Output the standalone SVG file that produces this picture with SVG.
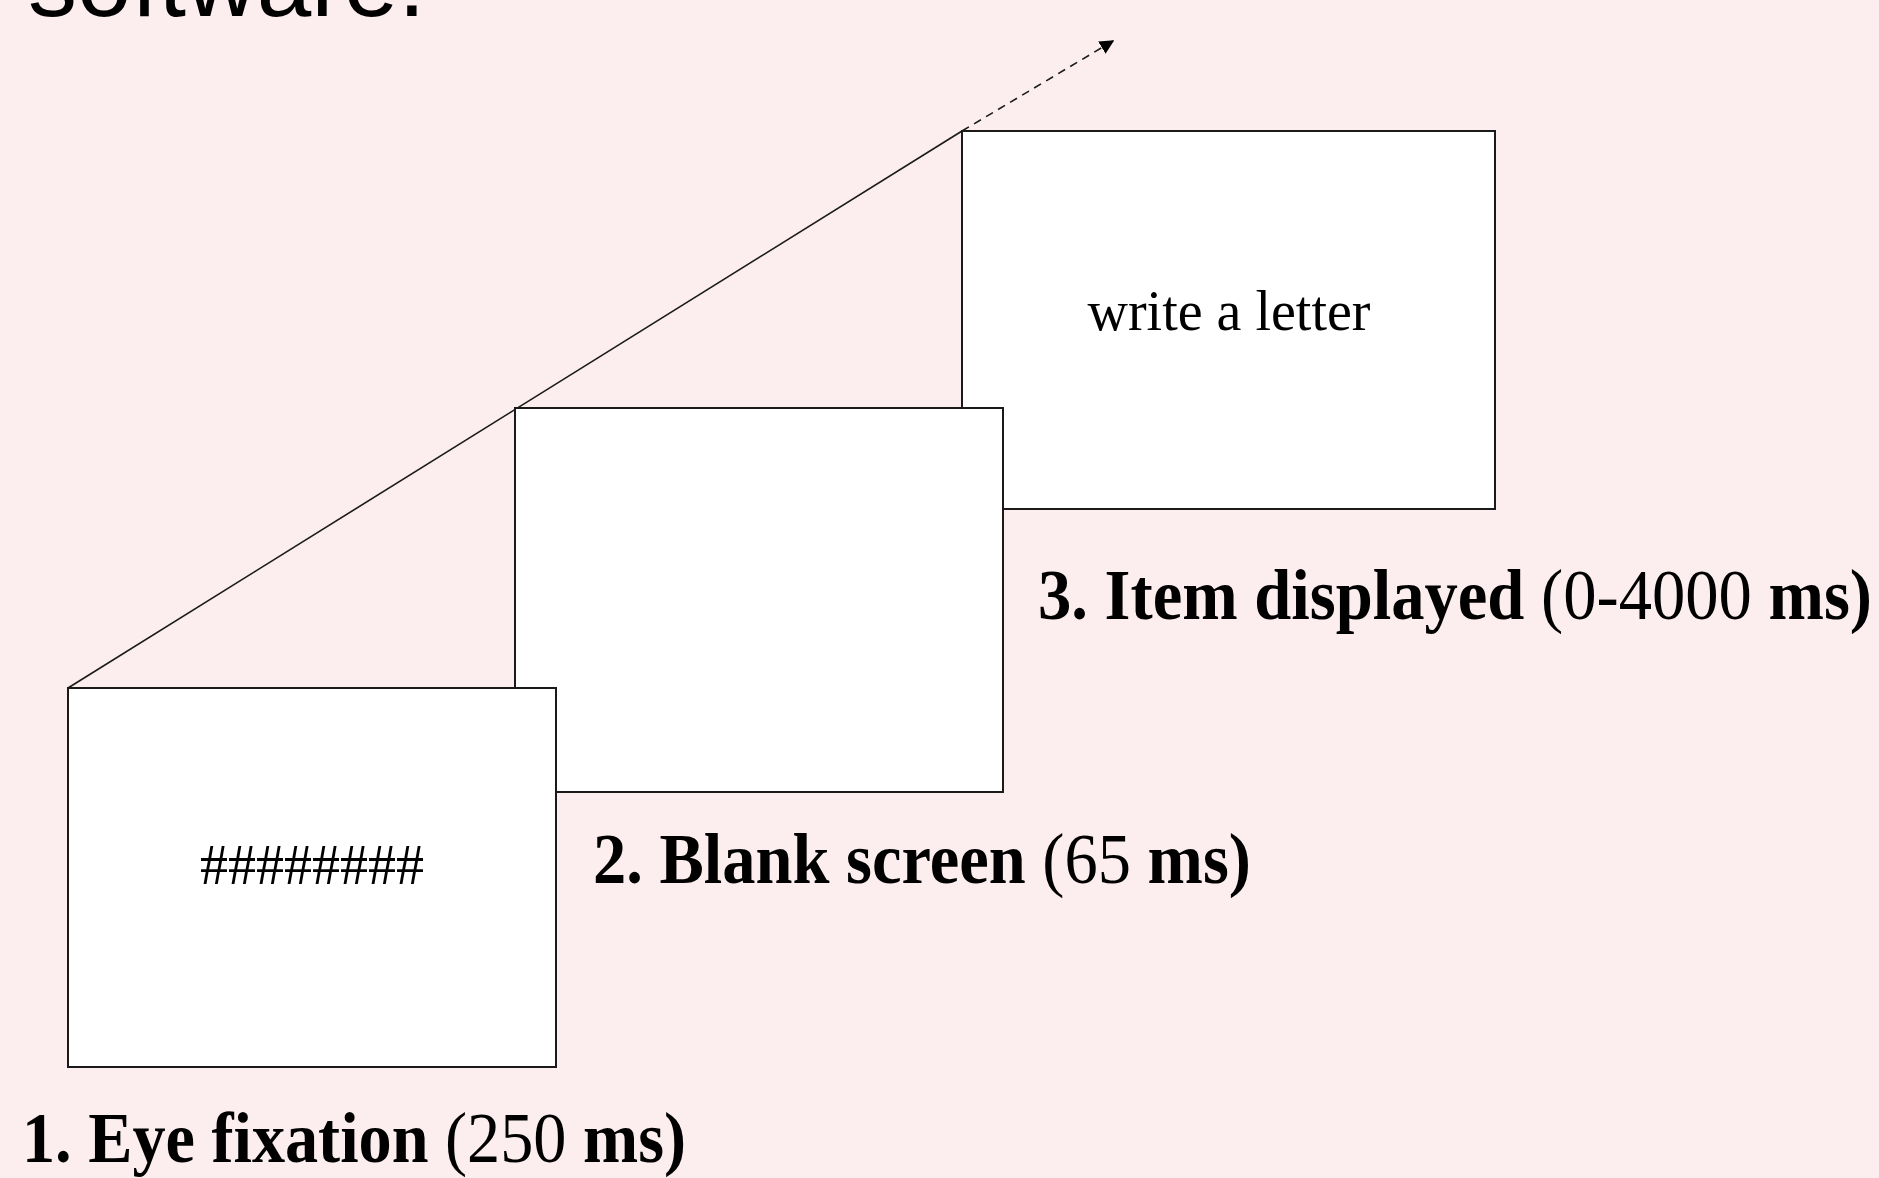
<svg xmlns="http://www.w3.org/2000/svg" width="1879" height="1178" viewBox="0 0 1879 1178">
  <style>
    .screen { fill: #ffffff; stroke: #1a1a1a; stroke-width: 2; }
    .inner { font-family: "Liberation Serif", "Times New Roman", serif; font-size: 56px; fill: #000; text-anchor: middle; }
    .label { font-family: "Liberation Serif", "Times New Roman", serif; font-size: 72px; font-weight: bold; fill: #000; }
    .reg { font-weight: normal; }
    .edge { stroke: #1a1a1a; stroke-width: 1.6; fill: none; }
  </style>
  <defs>
    <marker id="arrow" viewBox="0 0 10 10" refX="9" refY="5" markerWidth="9" markerHeight="9" orient="auto" markerUnits="strokeWidth">
      <path d="M0,0 L10,5 L0,10 z" fill="#000"/>
    </marker>
  </defs>
  <rect x="0" y="0" width="1879" height="1178" fill="#fcedee"/>
  <text x="28" y="16" font-family="Liberation Sans, Arial, sans-serif" font-size="98" fill="#000">software.</text>

  <g id="connectors">
    <line class="edge" x1="68" y1="688" x2="962" y2="131"/>
    <line class="edge" x1="962" y1="131" x2="1113" y2="41" stroke-dasharray="8,6" marker-end="url(#arrow)"/>
  </g>

  <g id="screen3">
    <rect class="screen" x="962" y="131" width="533" height="378"/>
    <text class="inner" x="1229" y="330">write a letter</text>
  </g>
  <g id="screen2">
    <rect class="screen" x="515" y="408" width="488" height="384"/>
  </g>
  <g id="screen1">
    <rect class="screen" x="68" y="688" width="488" height="379"/>
    <text class="inner" x="312" y="884">########</text>
  </g>

  <g id="labels">
    <text class="label" x="22" y="1162" textLength="664" lengthAdjust="spacingAndGlyphs">1. Eye fixation <tspan class="reg">(250 </tspan>ms)</text>
    <text class="label" x="593" y="883" textLength="658" lengthAdjust="spacingAndGlyphs">2. Blank screen <tspan class="reg">(65 </tspan>ms)</text>
    <text class="label" x="1038" y="619" textLength="834" lengthAdjust="spacingAndGlyphs">3. Item displayed <tspan class="reg">(0-4000 </tspan>ms)</text>
  </g>
</svg>
